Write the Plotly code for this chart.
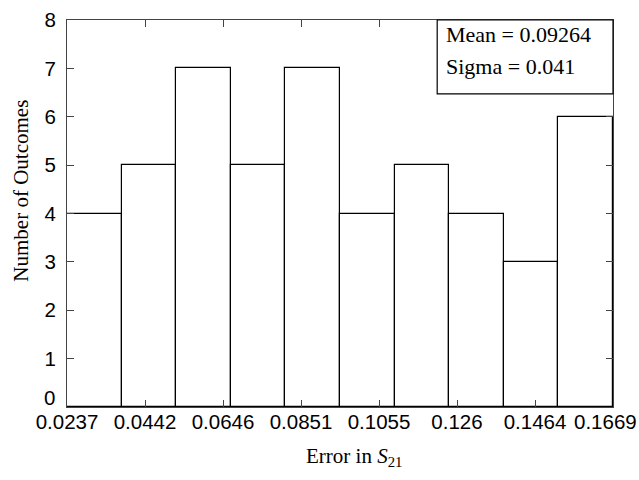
import numpy as np
import plotly.graph_objects as go

# Histogram of S21 error outcomes
counts = [4, 5, 7, 5, 7, 4, 5, 4, 3, 6]
x_min, x_max = 0.0237, 0.1669
tick_labels = ["0.0237", "0.0442", "0.0646", "0.0851", "0.1055", "0.126", "0.1464", "0.1669"]
y_ticks = [0, 1, 2, 3, 4, 5, 6, 7, 8]
mean_text = "Mean = 0.09264"
sigma_text = "Sigma = 0.041"

edges = np.linspace(x_min, x_max, len(counts) + 1)
centers = (edges[:-1] + edges[1:]) / 2
width = edges[1] - edges[0]
tick_vals = np.linspace(x_min, x_max, len(tick_labels))

sans = "Liberation Sans, Arial, sans-serif"
serif = "Liberation Serif, Times New Roman, serif"
tick_font = dict(family=sans, size=20.5, color="black")

fig = go.Figure(go.Bar(
    x=centers, y=counts, width=width,
    marker=dict(color="white", line=dict(color="black", width=1.2)),
))

axis_common = dict(
    showline=True, linecolor="#444", linewidth=1.2, mirror="ticks",
    ticks="inside", ticklen=7, tickcolor="#444", tickwidth=1,
    showgrid=False, zeroline=False, automargin=False,
    tickfont=tick_font,
)

fig.update_layout(
    width=639, height=480,
    margin=dict(l=67, r=26, t=20, b=73),
    plot_bgcolor="white", paper_bgcolor="white",
    showlegend=False, bargap=0,
    xaxis=dict(
        range=[x_min, x_max], tickvals=tick_vals,
        # last label is placed separately so it stays inside the page
        ticktext=tick_labels[:-1] + [""],
        ticklabelstandoff=-4, ticklabeloverflow="allow",
        **axis_common,
    ),
    yaxis=dict(
        range=[0, 8], tickvals=y_ticks[1:], ticklabelstandoff=6,
        **axis_common,
    ),
    shapes=[dict(type="rect", xref="paper", yref="paper",
                 x0=0.678, x1=1.0, y0=0.809, y1=1.0,
                 line=dict(color="black", width=1.2), fillcolor="white", layer="above")],
    annotations=[
        # zero label sits just above the x-axis line
        dict(text=str(y_ticks[0]), xref="paper", yref="y", x=0, y=y_ticks[0],
             xanchor="right", yanchor="bottom", xshift=-10, yshift=-4, showarrow=False,
             font=tick_font),
        dict(text=tick_labels[-1], xref="x", yref="paper", x=tick_vals[-1], y=0,
             xanchor="center", yanchor="top", xshift=-8, yshift=-1, showarrow=False,
             font=tick_font),
        dict(text="Number of Outcomes", xref="paper", yref="paper",
             x=-0.085, y=0.558, xanchor="center", yanchor="middle", textangle=-90,
             showarrow=False, font=dict(family=serif, size=21, color="black")),
        dict(text="Error in <i>S</i><sub>21</sub>", xref="paper", yref="paper",
             x=0.526, y=-0.13, xanchor="center", yanchor="middle", showarrow=False,
             font=dict(family=serif, size=21, color="black")),
        dict(text=mean_text, xref="paper", yref="paper", x=0.69, y=0.962,
             xanchor="left", yanchor="middle", showarrow=False,
             font=dict(family=serif, size=22, color="black")),
        dict(text=sigma_text, xref="paper", yref="paper", x=0.69, y=0.88,
             xanchor="left", yanchor="middle", showarrow=False,
             font=dict(family=serif, size=22, color="black")),
    ],
)

fig.write_html("out.html")
